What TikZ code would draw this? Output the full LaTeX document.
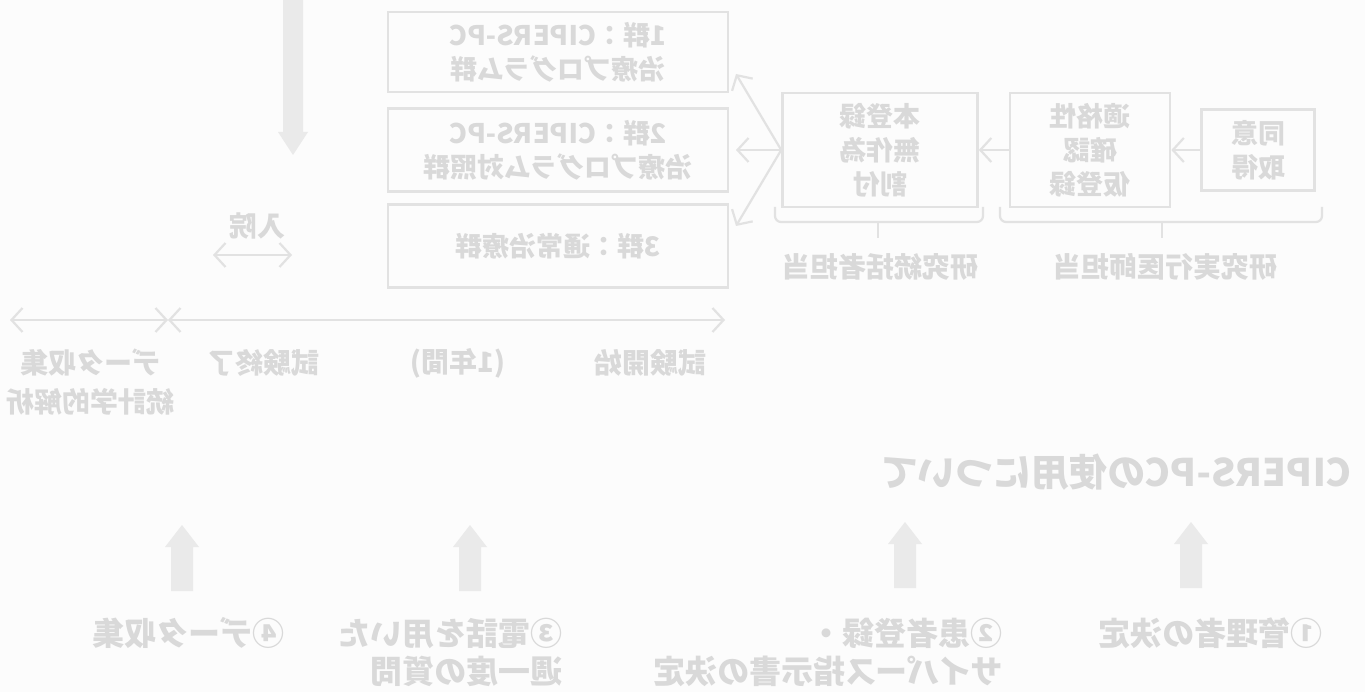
\documentclass[tikz,border=0pt]{standalone}
\usepackage{fontspec}
\setmainfont{Noto Sans CJK JP}
\usetikzlibrary{arrows.meta}
\definecolor{bgc}{HTML}{FCFCFC}
\definecolor{linec}{HTML}{E2E2E2}
\definecolor{txtc}{HTML}{D9D9D9}
\definecolor{arrc}{HTML}{EAEAEA}
\begin{document}
\begin{tikzpicture}[x=1pt,y=-1pt,
  mir/.style={xscale=-1},
  box/.style={draw=linec, line width=2.6pt, inner sep=0pt, mir, text=txtc,
    font=\bfseries\fontsize{27}{34}\selectfont, align=center},
  lbl/.style={mir, text=txtc, font=\bfseries\fontsize{28}{39}\selectfont, align=center, inner sep=0pt},
  biglbl/.style={mir, text=txtc, font=\bfseries\fontsize{32}{38}\selectfont, align=left, inner sep=0pt},
  barb/.tip={Straight Barb[length=11pt,width=24pt]},
  conn/.style={draw=linec, line width=2.2pt, -barb},
  dconn/.style={draw=linec, line width=2.2pt, barb-barb},
  brace/.style={draw=linec, line width=2.2pt, rounded corners=6pt},
  uparrow/.pic={\fill[arrc] (-11,66) -- (-11,22) -- (-17,22) -- (0,0) -- (17,22) -- (11,22) -- (11,66) -- cycle;}
]
\fill[bgc] (0,0) rectangle (1365,692);
\useasboundingbox (0,0) rectangle (1365,692);

% top-left big down arrow
\fill[arrc] (283,-2) -- (303,-2) -- (303,132) -- (308,132) -- (293,155) -- (278,132) -- (283,132) -- cycle;

% group boxes (mirrored nodes: .east is the visual left side)
\node[box, minimum width=340pt, minimum height=80pt] (b1) at (558,52) {1群：CIPERS-PC\\治療プログラム群};
\node[box, minimum width=340pt, minimum height=83pt] (b2) at (558,150) {2群：CIPERS-PC\\治療プログラム対照群};
\node[box, minimum width=340pt, minimum height=83pt] (b3) at (558,246) {3群：通常治療群};

% process boxes
\node[box, minimum width=195pt, minimum height=114pt] (A) at (880,150) {本登録\\無作為\\割付};
\node[box, minimum width=160pt, minimum height=114pt] (B) at (1090,150) {適格性\\確認\\仮登録};
\node[box, minimum width=113pt, minimum height=81pt] (C) at (1258,150) {同意\\取得};

\coordinate (t1) at (736,74);
\coordinate (t2) at (736,150);
\coordinate (t3) at (736,226);
\draw[conn] (A.east) -- (t1);
\draw[conn] (A.east) -- (t2);
\draw[conn] (A.east) -- (t3);
\draw[conn] (B.east) -- (A.west);
\draw[conn] (C.east) -- (B.west);

% braces
\draw[brace] (775,207) -- (775,222) -- (983,222) -- (983,207);
\draw[brace] (878,222) -- (878,238);
\draw[brace] (1000,207) -- (1000,222) -- (1322,222) -- (1322,207);
\draw[brace] (1162,222) -- (1162,238);
\node[lbl] (r1) at (880,267) {研究統括者担当};
\node[lbl] (r2) at (1165,267) {研究実行医師担当};

% admission arrow
\node[lbl] (adm) at (257,226) {入院};
\coordinate (h1) at (213,255);
\coordinate (h2) at (292,255);
\draw[dconn] (h1) -- (h2);

% timeline
\coordinate (tl) at (10,320);
\coordinate (tm) at (168,320);
\coordinate (tr) at (725,320);
\draw[dconn] (tl) -- (tm);
\draw[dconn] (tm) -- (tr);
\node[lbl] (s1) at (650,363) {試験開始};
\node[lbl] (s2) at (458,363) {(1年間)};
\node[lbl] (s3) at (263,363) {試験終了};
\node[lbl] (s4) at (90,382) {データ収集\\統計学的解析};

% heading
\node[mir, text=txtc, font=\bfseries\fontsize{38}{44}\selectfont, inner sep=0pt] (head) at (1116,472) {CIPERS-PCの使用について};

% bottom arrows and labels
\pic at (182,525) {uparrow};
\pic at (470,525) {uparrow};
\pic at (905,522) {uparrow};
\pic at (1191,522) {uparrow};
\node[biglbl] (p4) at (188,633) {④データ収集};
\node[biglbl] (p3) at (450,652) {③電話を用いた\\週一度の質問};
\node[biglbl] (p2) at (828,652) {②患者登録・\\サイパース指示書の決定};
\node[biglbl] (p1) at (1210,633) {①管理者の決定};
\end{tikzpicture}
\end{document}
